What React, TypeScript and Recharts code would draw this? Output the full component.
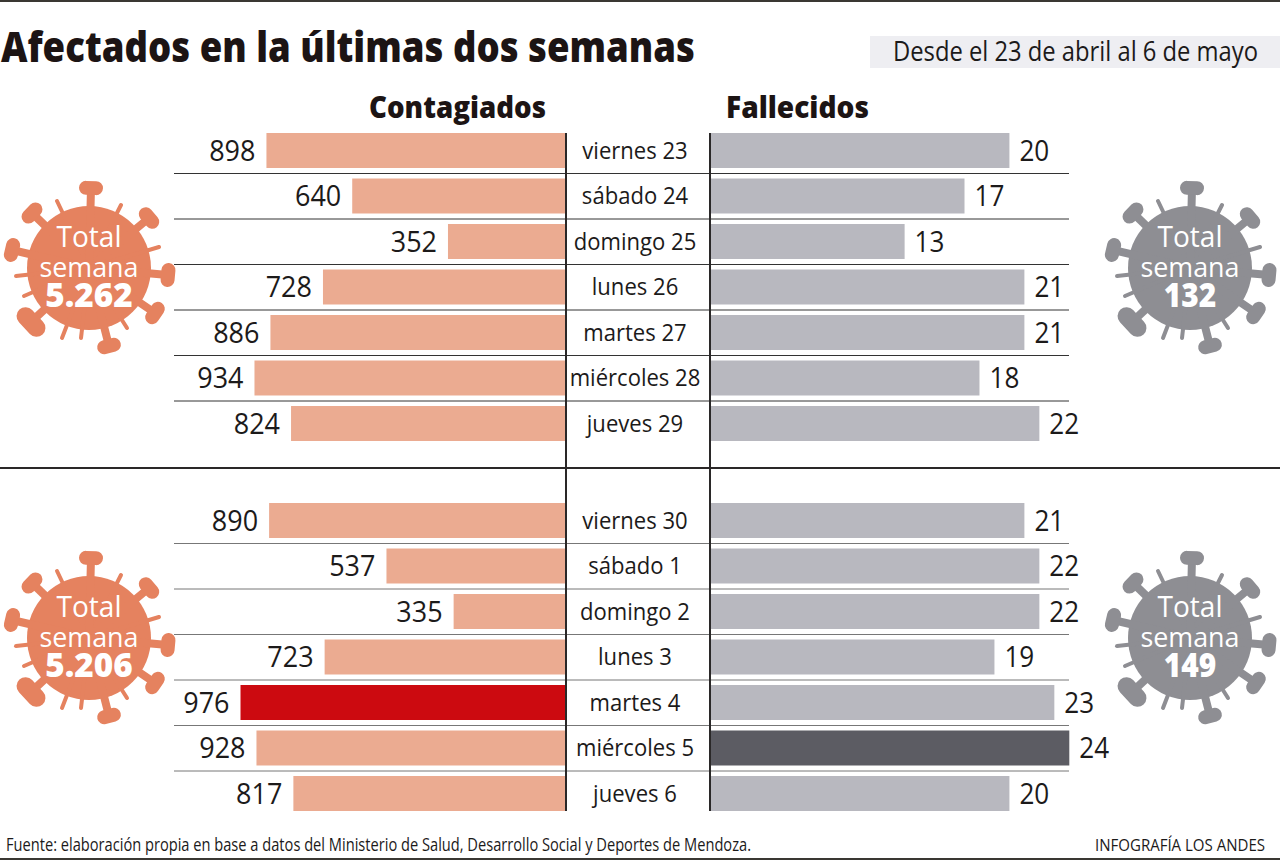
import { BarChart, Bar, XAxis, YAxis, Cell, LabelList } from 'recharts'

const weekOneDays = ['viernes 23', 'sábado 24', 'domingo 25', 'lunes 26', 'martes 27', 'miércoles 28', 'jueves 29']
const weekOneContagiados = [898, 640, 352, 728, 886, 934, 824]
const weekOneFallecidos = [20, 17, 13, 21, 21, 18, 22]

const weekTwoDays = ['viernes 30', 'sábado 1', 'domingo 2', 'lunes 3', 'martes 4', 'miércoles 5', 'jueves 6']
const weekTwoContagiados = [890, 537, 335, 723, 976, 928, 817]
const weekTwoFallecidos = [21, 22, 22, 19, 23, 24, 20]

const peakContagiados = 'martes 4'
const peakFallecidos = 'miércoles 5'

const FONT = '"Open Sans", sans-serif'
const ROW_H = 45.5
const CHART_H = ROW_H * 7

// thick stems with a knob at the end, thin spikes without
const knobs = [[2, -80], [60, -50], [79, 7], [66, 45], [20, 78], [-58, 54], [-77, -18], [-57, -55]]
const spikes = [[-32, -67], [32, -63], [70, -21], [-73, 8], [-65, 28], [-27, 70], [-8, 70], [38, 60]]

const Virus = ({ cx, cy, color, total }: any) => (
  <g transform={`translate(${cx},${cy})`}>
    <circle r={62} fill={color} />
    {spikes.map(([x, y], i) => (
      <line key={i} x1={0} y1={0} x2={x} y2={y} stroke={color} strokeWidth={4} strokeLinecap="round" />
    ))}
    {knobs.map(([x, y], i) => {
      const len = Math.hypot(x, y)
      const half = i === 5 ? 8 : 5
      const px = (-y / len) * half
      const py = (x / len) * half
      return (
        <g key={i} stroke={color} strokeLinecap="round">
          <line x1={0} y1={0} x2={x} y2={y} strokeWidth={8} />
          <line x1={x - px} y1={y - py} x2={x + px} y2={y + py} strokeWidth={i === 5 ? 18 : 14} />
        </g>
      )
    })}
    <text x={0} y={-21} textAnchor="middle" fill="#fff" fontFamily={FONT} fontWeight={500} fontSize={30} textLength={65} lengthAdjust="spacingAndGlyphs">Total</text>
    <text x={0} y={9} textAnchor="middle" fill="#fff" fontFamily={FONT} fontWeight={500} fontSize={28} textLength={99} lengthAdjust="spacingAndGlyphs">semana</text>
    <text x={0} y={39} textAnchor="middle" fill="#fff" fontFamily={FONT} fontWeight={800} fontSize={34} textLength={total.length * 17.5} lengthAdjust="spacingAndGlyphs">{total}</text>
  </g>
)

const LeftValue = ({ x, y, width, height, value }: any) => (
  <text
    transform={`translate(${Math.min(x, x + width) - 11},${y + height / 2 + 10}) scale(0.93,1)`}
    textAnchor="end"
    fontFamily={FONT}
    fontWeight={500}
    fontSize={29}
    fill="#1c1a1a"
  >
    {value}
  </text>
)

const RightValue = ({ x, y, width, height, value }: any) => (
  <text
    transform={`translate(${Math.max(x, x + width) + 10},${y + height / 2 + 10}) scale(0.9,1)`}
    fontFamily={FONT}
    fontWeight={500}
    fontSize={29}
    fill="#1c1a1a"
  >
    {value}
  </text>
)

const DayTick = ({ y, payload }: any) => (
  <text
    transform={`translate(70,${y + 8}) scale(0.92,1)`}
    textAnchor="middle"
    fontFamily={FONT}
    fontWeight={500}
    fontSize={24}
    fill="#1c1a1a"
  >
    {payload.value}
  </text>
)

const Week = ({ top, days, contagiados, fallecidos }: any) => {
  const rows = days.map((day: string, i: number) => ({ day, contagiados: contagiados[i], fallecidos: fallecidos[i] }))
  return (
    <>
      <div style={{ position: 'absolute', left: 180, top, width: 385, height: CHART_H }}>
        <BarChart width={385} height={CHART_H} data={rows} layout="vertical" margin={{ top: 0, right: 0, bottom: 0, left: 0 }}>
          <XAxis type="number" hide reversed domain={[0, 1158]} />
          <YAxis type="category" dataKey="day" hide />
          <Bar dataKey="contagiados" barSize={35} isAnimationActive={false}>
            {rows.map((r: any) => (
              <Cell key={r.day} fill={r.day === peakContagiados ? '#cc0a10' : '#ebab91'} />
            ))}
            <LabelList dataKey="contagiados" content={<LeftValue />} />
          </Bar>
        </BarChart>
      </div>
      <div style={{ position: 'absolute', left: 565, top, width: 560, height: CHART_H }}>
        <BarChart width={560} height={CHART_H} data={rows} layout="vertical" margin={{ top: 0, right: 0, bottom: 0, left: 0 }}>
          <XAxis type="number" hide domain={[0, 27.72]} />
          <YAxis type="category" dataKey="day" width={145} interval={0} tickLine={false} axisLine={false} tick={<DayTick />} />
          <Bar dataKey="fallecidos" barSize={35} isAnimationActive={false}>
            {rows.map((r: any) => (
              <Cell key={r.day} fill={r.day === peakFallecidos ? '#5c5c63' : '#b8b8bf'} />
            ))}
            <LabelList dataKey="fallecidos" content={<RightValue />} />
          </Bar>
        </BarChart>
      </div>
    </>
  )
}

const rowLines = (top: number, color: string) =>
  [1, 2, 3, 4, 5, 6].map((i) => (
    <line key={i} x1={174} x2={1069} y1={top + ROW_H * i} y2={top + ROW_H * i} stroke={color} strokeWidth={1} />
  ))

export default function App() {
  return (
    <div style={{ position: 'absolute', left: 0, top: 0, width: 1280, height: 861, background: '#fff', overflow: 'hidden' }}>
      <svg width={1280} height={861} style={{ position: 'absolute', left: 0, top: 0 }}>
        <rect x={0} y={0} width={1280} height={2} fill="#3a3833" />
        <rect x={0} y={858} width={1280} height={2} fill="#3a3833" />
        <rect x={870} y={36} width={410} height={32} fill="#eeeef2" />
        <rect x={0} y={467} width={1280} height={2} fill="#2a2828" />
        {rowLines(128, '#333')}
        {rowLines(498, '#777')}
      </svg>
      <Week top={128} days={weekOneDays} contagiados={weekOneContagiados} fallecidos={weekOneFallecidos} />
      <Week top={498} days={weekTwoDays} contagiados={weekTwoContagiados} fallecidos={weekTwoFallecidos} />
      <svg width={1280} height={861} style={{ position: 'absolute', left: 0, top: 0, pointerEvents: 'none' }}>
        <rect x={565} y={133} width={2} height={678} fill="#2a2828" />
        <rect x={709} y={133} width={2} height={678} fill="#2a2828" />
        <text x={1} y={62} fontFamily={FONT} fontWeight={800} fontSize={43} fill="#1c1414" textLength={694} lengthAdjust="spacingAndGlyphs">
          Afectados en la últimas dos semanas
        </text>
        <text transform="translate(893,61) scale(1,1.08)" fontFamily={FONT} fontSize={25} fill="#1c1a1a" textLength={365} lengthAdjust="spacingAndGlyphs">
          Desde el 23 de abril al 6 de mayo
        </text>
        <text x={369} y={118} fontFamily={FONT} fontWeight={800} fontSize={30} fill="#1c1414" textLength={177} lengthAdjust="spacingAndGlyphs">
          Contagiados
        </text>
        <text x={726} y={118} fontFamily={FONT} fontWeight={800} fontSize={30} fill="#1c1414" textLength={143} lengthAdjust="spacingAndGlyphs">
          Fallecidos
        </text>
        <text x={6} y={851} fontFamily={FONT} fontSize={19} fill="#1c1a1a" textLength={745} lengthAdjust="spacingAndGlyphs">
          Fuente: elaboración propia en base a datos del Ministerio de Salud, Desarrollo Social y Deportes de Mendoza.
        </text>
        <text transform="translate(1095,851) scale(1,1.13)" fontFamily={FONT} fontSize={15} fill="#1c1a1a" textLength={170} lengthAdjust="spacingAndGlyphs">
          INFOGRAFÍA LOS ANDES
        </text>
        <Virus cx={89} cy={268} color="#e5825f" total="5.262" />
        <Virus cx={1190} cy={268} color="#8e8e93" total="132" />
        <Virus cx={89} cy={638} color="#e5825f" total="5.206" />
        <Virus cx={1190} cy={638} color="#8e8e93" total="149" />
      </svg>
    </div>
  )
}
